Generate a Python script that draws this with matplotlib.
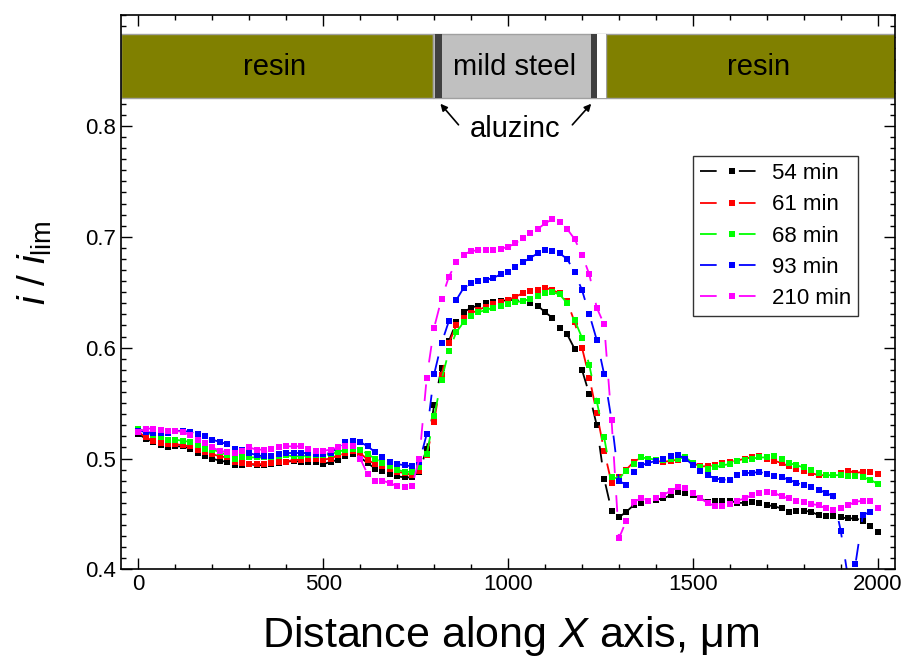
import matplotlib
matplotlib.use("Agg")
import matplotlib.pyplot as plt
from matplotlib.patches import Rectangle
from matplotlib.ticker import MultipleLocator

plt.rcParams['font.family'] = ['Liberation Sans', 'DejaVu Sans']
plt.rcParams['mathtext.fontset'] = 'custom'
plt.rcParams['mathtext.rm'] = 'Liberation Sans'
plt.rcParams['mathtext.it'] = 'Liberation Sans:italic'
plt.rcParams['lines.scale_dashes'] = False

# distance along X, um (step 20)
distance = list(range(0, 2001, 20))

t54 = [0.522, 0.518, 0.515, 0.512, 0.510, 0.511, 0.511, 0.509, 0.505, 0.502,
       0.500, 0.498, 0.497, 0.494, 0.494, 0.495, 0.494, 0.494, 0.495, 0.496,
       0.497, 0.498, 0.497, 0.497, 0.497, 0.495, 0.497, 0.499, 0.502, 0.504,
       0.501, 0.496, 0.491, 0.489, 0.486, 0.484, 0.483, 0.483, 0.488, 0.509,
       0.548, 0.582, 0.606, 0.623, 0.632, 0.636, 0.638, 0.640, 0.641, 0.642,
       0.643, 0.643, 0.642, 0.640, 0.638, 0.632, 0.627, 0.618, 0.612, 0.599,
       0.580, 0.558, 0.530, 0.482, 0.453, 0.447, 0.452, 0.458, 0.460, 0.462,
       0.463, 0.464, 0.467, 0.470, 0.469, 0.467, 0.464, 0.461, 0.462, 0.462,
       0.462, 0.460, 0.460, 0.461, 0.460, 0.458, 0.457, 0.455, 0.452, 0.453,
       0.453, 0.452, 0.449, 0.448, 0.448, 0.447, 0.446, 0.446, 0.444, 0.439,
       0.434]

t61 = [0.524, 0.519, 0.516, 0.514, 0.513, 0.513, 0.512, 0.511, 0.508, 0.506,
       0.504, 0.502, 0.501, 0.497, 0.496, 0.495, 0.495, 0.495, 0.496, 0.497,
       0.497, 0.499, 0.499, 0.500, 0.500, 0.499, 0.500, 0.503, 0.505, 0.507,
       0.505, 0.499, 0.495, 0.493, 0.491, 0.488, 0.487, 0.485, 0.489, 0.503,
       0.533, 0.575, 0.604, 0.620, 0.627, 0.631, 0.634, 0.637, 0.639, 0.641,
       0.643, 0.646, 0.649, 0.651, 0.652, 0.654, 0.652, 0.649, 0.642, 0.623,
       0.600, 0.573, 0.541, 0.507, 0.478, 0.483, 0.490, 0.497, 0.501, 0.499,
       0.498, 0.497, 0.498, 0.499, 0.501, 0.496, 0.493, 0.493, 0.494, 0.496,
       0.497, 0.498, 0.500, 0.501, 0.502, 0.500, 0.498, 0.496, 0.493, 0.491,
       0.489, 0.487, 0.485, 0.485, 0.485, 0.487, 0.489, 0.487, 0.488, 0.488,
       0.486]

t68 = [0.527, 0.524, 0.521, 0.519, 0.517, 0.517, 0.516, 0.515, 0.512, 0.509,
       0.508, 0.506, 0.503, 0.500, 0.501, 0.501, 0.501, 0.501, 0.501, 0.502,
       0.503, 0.502, 0.502, 0.503, 0.503, 0.503, 0.504, 0.506, 0.508, 0.509,
       0.508, 0.504, 0.500, 0.496, 0.493, 0.490, 0.488, 0.488, 0.492, 0.504,
       0.538, 0.571, 0.597, 0.614, 0.623, 0.629, 0.632, 0.634, 0.636, 0.638,
       0.639, 0.641, 0.642, 0.644, 0.647, 0.649, 0.650, 0.648, 0.640, 0.625,
       0.609, 0.584, 0.552, 0.519, 0.483, 0.482, 0.489, 0.495, 0.501, 0.500,
       0.499, 0.499, 0.500, 0.500, 0.501, 0.496, 0.492, 0.491, 0.492, 0.494,
       0.495, 0.498, 0.499, 0.500, 0.501, 0.501, 0.502, 0.500, 0.496, 0.494,
       0.492, 0.490, 0.487, 0.485, 0.485, 0.485, 0.484, 0.484, 0.483, 0.481,
       0.477]

t93 = [0.525, 0.524, 0.523, 0.523, 0.523, 0.525, 0.525, 0.524, 0.522, 0.520,
       0.517, 0.515, 0.513, 0.509, 0.508, 0.505, 0.503, 0.502, 0.502, 0.504,
       0.505, 0.505, 0.505, 0.505, 0.504, 0.504, 0.505, 0.510, 0.515, 0.516,
       0.515, 0.511, 0.506, 0.501, 0.497, 0.495, 0.494, 0.493, 0.497, 0.522,
       0.576, 0.604, 0.624, 0.643, 0.654, 0.658, 0.660, 0.661, 0.663, 0.666,
       0.668, 0.673, 0.677, 0.681, 0.685, 0.688, 0.687, 0.685, 0.680, 0.668,
       0.652, 0.630, 0.607, 0.576, 0.535, 0.480, 0.476, 0.488, 0.494, 0.496,
       0.498, 0.500, 0.502, 0.503, 0.500, 0.494, 0.489, 0.485, 0.482, 0.481,
       0.481, 0.485, 0.487, 0.487, 0.488, 0.486, 0.484, 0.483, 0.481, 0.478,
       0.476, 0.474, 0.472, 0.469, 0.466, 0.435, 0.392, 0.405, 0.449, 0.452,
       0.455]

t210 = [0.524, 0.527, 0.527, 0.526, 0.525, 0.525, 0.524, 0.521, 0.517, 0.514,
        0.510, 0.507, 0.506, 0.505, 0.507, 0.510, 0.508, 0.508, 0.509, 0.510,
        0.511, 0.511, 0.511, 0.509, 0.507, 0.507, 0.508, 0.510, 0.511, 0.511,
        0.500, 0.486, 0.480, 0.480, 0.478, 0.475, 0.474, 0.475, 0.500, 0.573,
        0.618, 0.644, 0.664, 0.677, 0.684, 0.687, 0.688, 0.688, 0.688, 0.689,
        0.691, 0.694, 0.699, 0.703, 0.707, 0.712, 0.716, 0.713, 0.707, 0.698,
        0.684, 0.666, 0.636, 0.621, 0.535, 0.428, 0.444, 0.461, 0.464, 0.462,
        0.464, 0.467, 0.471, 0.474, 0.473, 0.469, 0.464, 0.460, 0.457, 0.457,
        0.459, 0.462, 0.464, 0.467, 0.469, 0.470, 0.469, 0.466, 0.464, 0.462,
        0.461, 0.459, 0.458, 0.455, 0.454, 0.455, 0.458, 0.461, 0.462, 0.462,
        0.455]

series = [t54, t61, t68, t93, t210]
labels = ['54 min', '61 min', '68 min', '93 min', '210 min']
colors = ['#000000', '#ff0000', '#00ff00', '#0000ff', '#ff00ff']

fig = plt.figure(figsize=(9.06, 6.57), dpi=100)
ax = fig.add_axes([0.1336, 0.1333, 0.8543, 0.8438])

for ys, lab, c in zip(series, labels, colors):
    ax.plot(distance, ys, color=c, linestyle=(0, (12, 16)), linewidth=1.3,
            marker='s', markersize=5.0, markeredgewidth=0, label=lab)

ax.set_xlim(-47, 2047)
ax.set_ylim(0.4, 0.9)
ax.set_xticks([0, 500, 1000, 1500, 2000])
ax.set_yticks([0.4, 0.5, 0.6, 0.7, 0.8])
ax.xaxis.set_minor_locator(MultipleLocator(100))
ax.yaxis.set_minor_locator(MultipleLocator(0.01))
ax.tick_params(which='both', direction='in', top=True, right=True, width=1.0,
               labelsize=16)
ax.tick_params(which='major', length=8)
ax.tick_params(which='minor', length=3.8)
for s in ax.spines.values():
    s.set_linewidth(1.2)

# sample cross-section banner
band_lo, band_hi = 0.825, 0.883
h = band_hi - band_lo
ax.add_patch(Rectangle((-47, band_lo), 844, h, facecolor='#808000',
                       edgecolor='#a0a0a0', linewidth=1, zorder=2.2))
ax.add_patch(Rectangle((797, band_lo), 468, h, facecolor='#c0c0c0',
                       edgecolor='#a0a0a0', linewidth=1, zorder=2.2))
ax.add_patch(Rectangle((803, band_lo), 18, h, facecolor='#404040',
                       edgecolor='none', zorder=2.3))
ax.add_patch(Rectangle((1225, band_lo), 16, h, facecolor='#404040',
                       edgecolor='none', zorder=2.3))
ax.add_patch(Rectangle((1241, band_lo), 24, h, facecolor='white',
                       edgecolor='none', zorder=2.3))
ax.add_patch(Rectangle((1265, band_lo), 782, h, facecolor='#808000',
                       edgecolor='#a0a0a0', linewidth=1, zorder=2.2))
ax.text(368, 0.853, 'resin', fontsize=21, ha='center', va='center', zorder=3)
ax.text(1677, 0.853, 'resin', fontsize=21, ha='center', va='center', zorder=3)
ax.text(1019, 0.853, 'mild steel', fontsize=21, ha='center', va='center', zorder=3)

ax.text(1019, 0.797, 'aluzinc', fontsize=21, ha='center', va='center')
arrow = dict(arrowstyle='-|>', color='black', lw=1.2, mutation_scale=10,
             shrinkA=0, shrinkB=0)
ax.annotate('', xy=(817, 0.820), xytext=(866, 0.801), arrowprops=arrow)
ax.annotate('', xy=(1225, 0.820), xytext=(1174, 0.801), arrowprops=arrow)

ax.set_xlabel(r'Distance along $X$ axis, μm', fontsize=31)
ax.xaxis.set_label_coords(0.503, -0.08)
ax.set_ylabel(r'$i$ / $i_{\rm lim}$', fontsize=28)
ax.yaxis.set_label_coords(-0.086, 0.554)

leg = ax.legend(loc='upper right', bbox_to_anchor=(0.952, 0.745), fontsize=16,
                frameon=True, fancybox=False, edgecolor='black',
                handlelength=2.9, handletextpad=0.35, labelspacing=0.46,
                borderpad=0.3, borderaxespad=0, numpoints=1)
leg.get_frame().set_linewidth(1.0)
leg.set_zorder(4)

fig.savefig('out.png', dpi=100)
